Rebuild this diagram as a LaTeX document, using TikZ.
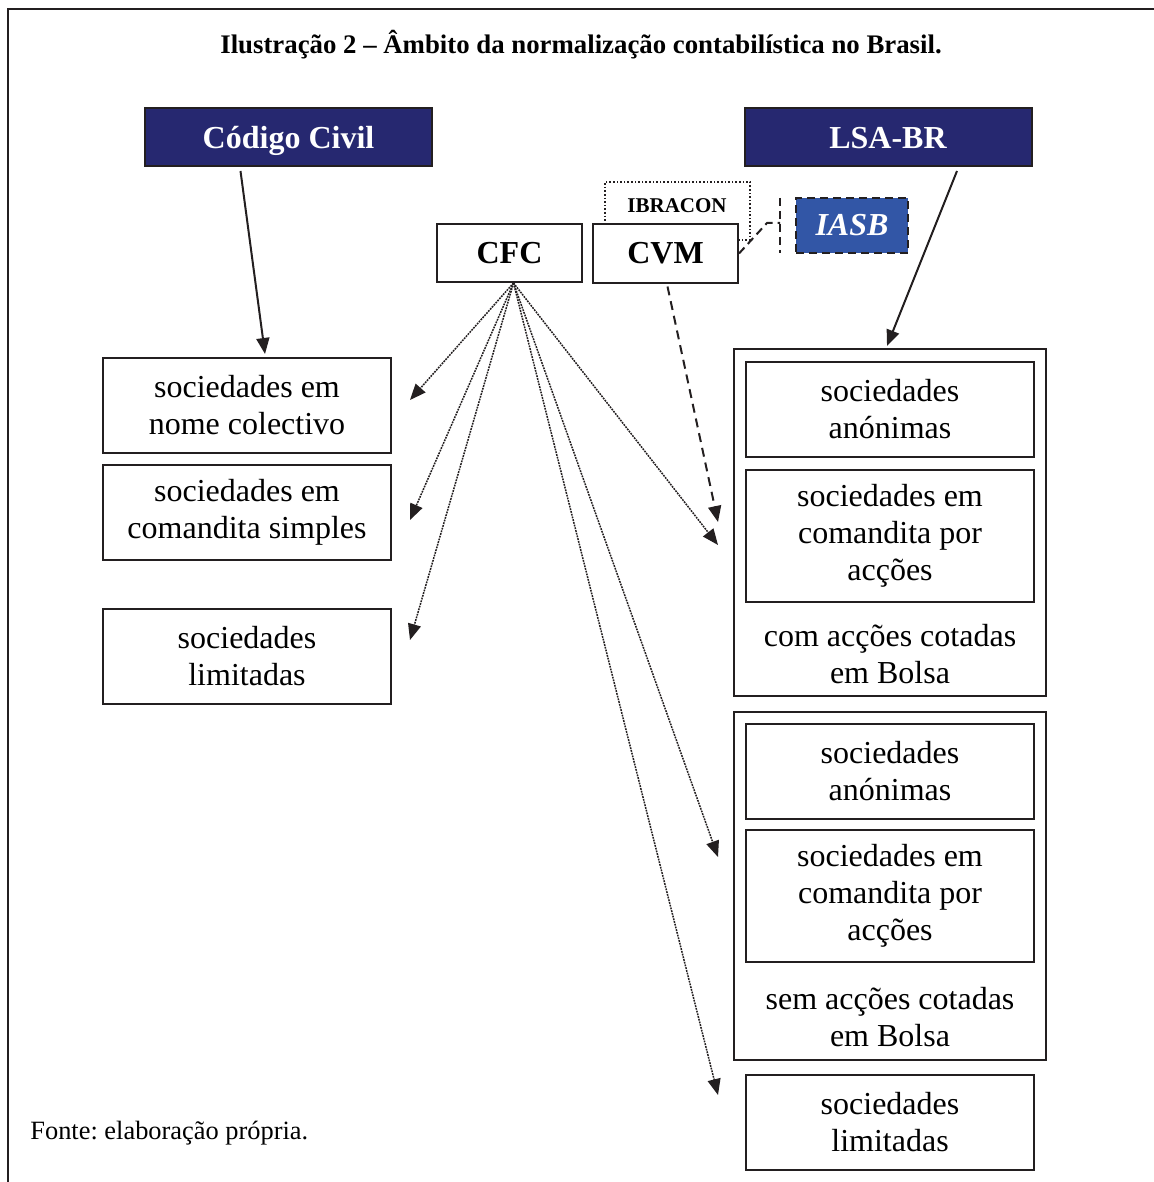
\documentclass[tikz,border=0pt]{standalone}
\usepackage{fontspec}
\setmainfont{Liberation Serif}
\usepackage{tikz}
\usetikzlibrary{
  arrows.meta,
  calc
}
\frenchspacing
\definecolor{lawnavy}{RGB}{38,40,112}
\definecolor{iasbblue}{RGB}{50,86,166}
\definecolor{boxline}{RGB}{35,31,32}
\tikzset{
  law box/.style={draw=boxline,fill=lawnavy,line width=1pt,minimum width=143.5pt,minimum height=29pt,
    text=white,font=\bfseries\fontsize{16}{18}\selectfont,inner sep=0pt,text height=13pt,text depth=1.4pt},
  org box/.style={draw=boxline,fill=white,line width=1pt,minimum width=72.5pt,minimum height=29pt,
    font=\bfseries\fontsize{16}{18}\selectfont,inner sep=0pt},
  ibracon box/.style={draw=boxline,densely dotted,line width=0.8pt,minimum width=72.5pt,minimum height=29pt,inner sep=0pt},
  iasb box/.style={draw=boxline,fill=iasbblue,dash pattern=on 4pt off 2.5pt,line width=1pt,minimum width=56pt,
    minimum height=27.5pt,text=white,font=\bfseries\itshape\fontsize{16}{18}\selectfont,inner sep=0pt},
  company box/.style={draw=boxline,fill=white,line width=1pt,minimum width=144pt,minimum height=47.5pt,
    align=center,font=\fontsize{16}{18.5}\selectfont,inner sep=0pt},
  group box/.style={draw=boxline,line width=1pt,minimum width=156pt,inner sep=0pt},
  group label/.style={align=center,font=\fontsize{16}{18.5}\selectfont},
}

\begin{document}
\begin{tikzpicture}[
  x=0.5pt,y=-0.5pt,
  >={Triangle[length=8pt,width=6.5pt]},
  law arrow/.style={->,draw=boxline,line width=1pt},
  cfc arrow/.style={->,draw=boxline,line width=0.75pt,dash pattern=on 0.9pt off 0.5pt},
  cvm arrow/.style={->,draw=boxline,line width=1pt,dash pattern=on 4.5pt off 3pt},
  callout/.style={draw=boxline,line width=1pt,dash pattern=on 4pt off 2.5pt},
]
\useasboundingbox (0,0) rectangle (1154,1182);
\draw[boxline,line width=1pt] (8,1182) -- (8,9) -- (1154,9);
\node[font=\bfseries\fontsize{13.4}{15}\selectfont] (title) at (581,45)
  {Ilustração 2 – Âmbito da normalização contabilística no Brasil.};

\node[law box] (civil) at (288.5,137) {Código Civil};
\node[law box] (lsa) at (888,137) {LSA-BR};

\node[ibracon box] (ibracon) at (677.5,211) {};
\node[font=\bfseries\fontsize{10.5}{12}\selectfont] (ibracon-label) at (677,206) {IBRACON};
\node[org box] (cfc) at (509.5,253) {CFC};
\node[org box] (cvm) at (665.5,253.5) {CVM};
\node[iasb box] (iasb) at (852,225.5) {IASB};
\coordinate (brk-top) at (780,198);
\coordinate (brk-bot) at (780,253);
\coordinate (brk-mid) at (780,223);
\draw[callout] (cvm.east) -- ([xshift=-6.5pt]brk-mid) -- (brk-mid);
\draw[callout] (brk-top) -- (brk-bot);

\node[company box] (nc) at (247,405.5) {sociedades em\\nome colectivo};
\node[company box] (cs) at (247,512.5) {sociedades em\\comandita simples};
\node[company box] (ltd-l) at (247,656.5) {sociedades\\limitadas};

\node[group box,minimum height=173.5pt] (cot) at (890,522.5) {};
\node[company box] (cot-sa) at (890,409.5) {sociedades\\anónimas};
\node[company box,minimum height=66pt] (cot-sca) at (890,536) {sociedades em\\comandita por\\acções};
\node[group label] (cot-label) at (890,654) {com acções cotadas\\em Bolsa};

\node[group box,minimum height=174pt] (ncot) at (890,886) {};
\node[company box] (ncot-sa) at (890,771.5) {sociedades\\anónimas};
\node[company box,minimum height=66pt] (ncot-sca) at (890,896) {sociedades em\\comandita por\\acções};
\node[group label] (ncot-label) at (890,1017) {sem acções cotadas\\em Bolsa};

\node[company box] (ltd-r) at (890,1122.5) {sociedades\\limitadas};

\node[anchor=west,font=\fontsize{13.2}{15}\selectfont,inner sep=0pt] (source) at (30,1133) {Fonte: elaboração própria.};

\coordinate (to-nc) at (410,400);
\coordinate (to-cs) at (410,520);
\coordinate (to-ltd-l) at (410,640);
\coordinate (to-cot) at (718,545);
\coordinate (to-ncot) at (718,857);
\coordinate (to-ltd-r) at (718,1095);
\coordinate (cvm-to-cot) at (718,522);

\draw[law arrow] ([xshift=-24pt,yshift=-2pt]civil.south) -- ([xshift=9pt,yshift=1.5pt]nc.north);
\draw[law arrow] ([xshift=34.5pt,yshift=-2pt]lsa.south) -- ([xshift=-1.5pt,yshift=1pt]cot.north);

\draw[cfc arrow] ([xshift=2pt]cfc.south) -- (to-nc);
\draw[cfc arrow] ([xshift=2pt]cfc.south) -- (to-cs);
\draw[cfc arrow] ([xshift=2pt]cfc.south) -- (to-ltd-l);
\draw[cfc arrow] ([xshift=2pt]cfc.south) -- (to-cot);
\draw[cfc arrow] ([xshift=2pt]cfc.south) -- (to-ncot);
\draw[cfc arrow] ([xshift=2pt]cfc.south) -- (to-ltd-r);

\draw[cvm arrow] ([xshift=1pt,yshift=-1.5pt]cvm.south) -- (cvm-to-cot);
\end{tikzpicture}
\end{document}
